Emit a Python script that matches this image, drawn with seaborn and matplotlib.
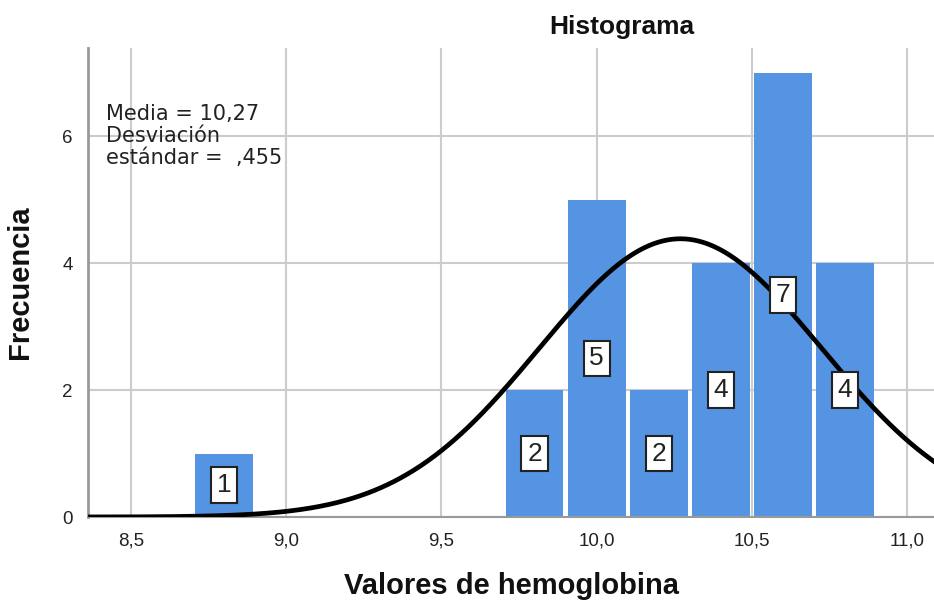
import matplotlib
matplotlib.use("Agg")
import matplotlib.pyplot as plt
import numpy as np
import seaborn as sns

# Bin centres and counts (bin width 0.2)
bin_centers = [8.8, 9.8, 10.0, 10.2, 10.4, 10.6, 10.8]
counts = [1, 2, 5, 2, 4, 7, 4]
mean_val = 10.27
sd_val = 0.455

x_ticks = [8.5, 9.0, 9.5, 10.0, 10.5, 11.0]
x_tick_labels = ["8,5", "9,0", "9,5", "10,0", "10,5", "11,0"]
y_ticks = [0, 2, 4, 6]
y_tick_labels = ["0", "2", "4", "6"]

sns.set_theme(style="white")
plt.rcParams["font.family"] = ["Liberation Sans", "DejaVu Sans"]

fig = plt.figure(figsize=(9.34, 6.01), dpi=100)
ax = fig.add_axes([88 / 934, 1 - 517 / 601, 1 - 88 / 934, (517 - 48) / 601])

bar_color = "#5594e2"
sns.histplot(
    x=bin_centers,
    weights=counts,
    binwidth=0.2,
    binrange=(8.7, 10.9),
    shrink=0.93,
    color=bar_color,
    alpha=1,
    linewidth=0,
    ax=ax,
    zorder=2,
)

# Normal curve scaled to the histogram (N * bin width)
n_total = sum(counts)
xs = np.linspace(8.3, 11.2, 400)
ys = n_total * 0.2 * np.exp(-0.5 * ((xs - mean_val) / sd_val) ** 2) / (sd_val * np.sqrt(2 * np.pi))
sns.lineplot(x=xs, y=ys, color="black", linewidth=3.4, ax=ax, zorder=4)

# Count labels in boxes at mid-height of each bar
for c, n in zip(bin_centers, counts):
    ax.text(
        c, n / 2, str(n), ha="center", va="center", fontsize=19, color="#222222", zorder=5,
        bbox=dict(boxstyle="square,pad=0.22", facecolor="white", edgecolor="#222222", linewidth=1.5),
    )

ax.set_xlim(8.361, 11.087)
ax.set_ylim(0, 7.39)
ax.set_xticks(x_ticks)
ax.set_xticklabels(x_tick_labels, fontsize=13.5, color="#222222")
ax.set_yticks(y_ticks)
ax.set_yticklabels(y_tick_labels, fontsize=13.5, color="#222222")
ax.tick_params(axis="x", length=0, pad=11)
ax.tick_params(axis="y", length=3, color="#999999", pad=8)

ax.grid(True, color="#cccccc", linewidth=1.5, zorder=0)
ax.set_axisbelow(True)
for side in ["top", "right"]:
    ax.spines[side].set_visible(False)
ax.spines["left"].set_color("#999999")
ax.spines["left"].set_linewidth(2)
ax.spines["bottom"].set_color("#999999")
ax.spines["bottom"].set_linewidth(1.5)

ax.set_xlabel("Valores de hemoglobina", fontsize=21, fontweight="bold", labelpad=16, color="#111111")
ax.set_ylabel("Frecuencia", fontsize=21, fontweight="bold", labelpad=20, color="#111111")

fig.text(622 / 934, 1 - 27 / 601, "Histograma", ha="center", va="center",
         fontsize=19, fontweight="bold", color="#111111")
fig.text(106 / 934, 1 - 104 / 601, "Media = 10,27\nDesviación\nestándar =  ,455",
         ha="left", va="top", fontsize=15, linespacing=1.12, color="#222222",
         family=["DejaVu Sans"])

fig.savefig("out.png", dpi=100)
